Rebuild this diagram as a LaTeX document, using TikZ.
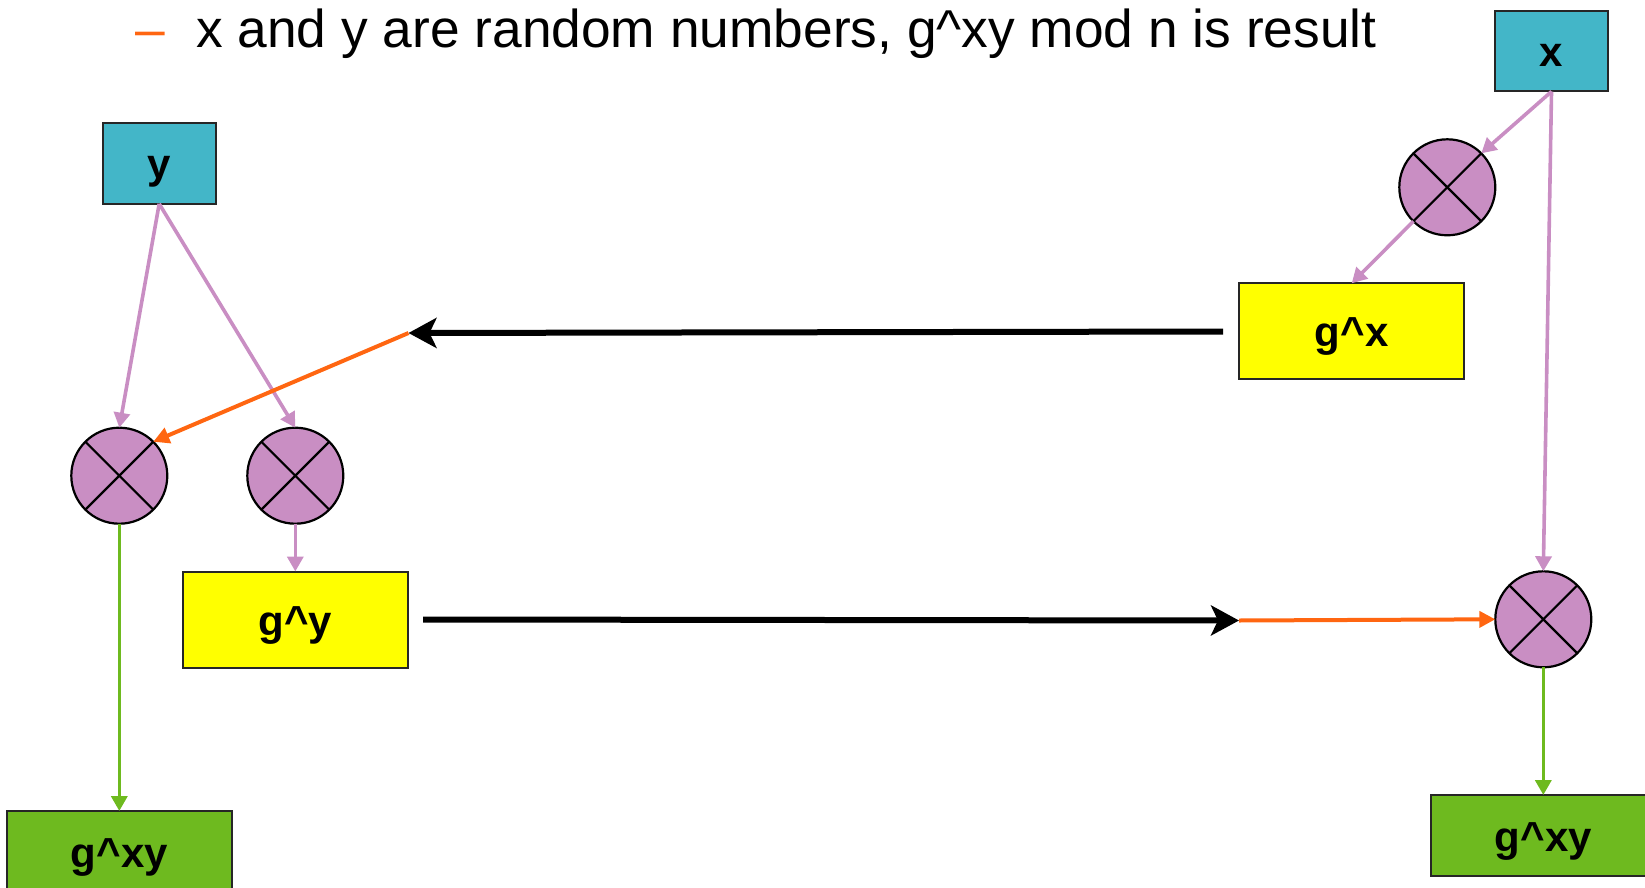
\documentclass[tikz,border=0pt]{standalone}
\usepackage{fontspec}
\setmainfont{Liberation Sans}
\usetikzlibrary{arrows.meta,calc}
\definecolor{tealbox}{HTML}{43B6C8}
\definecolor{pinkc}{HTML}{C98EC3}
\definecolor{greenc}{HTML}{6EBA1F}
\definecolor{orangec}{HTML}{FF6611}
\definecolor{yellowc}{HTML}{FFFF00}
\tikzset{
  box/.style={draw=black!85,line width=2pt,inner sep=0pt,outer sep=0pt,
    font=\fontsize{42}{42}\selectfont\bfseries,text height=31pt,text depth=0pt},
  inbox/.style={box,fill=tealbox,minimum width=113pt,minimum height=80pt},
  pubbox/.style={box,fill=yellowc,minimum width=225pt,minimum height=96pt},
  keybox/.style={box,fill=greenc,minimum width=225pt,minimum height=81pt},
  mult/.style={circle,draw=black,line width=2.2pt,fill=pinkc,minimum size=96pt,
    inner sep=0pt,outer sep=0pt,
    path picture={\draw[black,line width=2.2pt]
      (path picture bounding box.south west) -- (path picture bounding box.north east)
      (path picture bounding box.north west) -- (path picture bounding box.south east);}},
  pinkarrow/.style={draw=pinkc,line width=3.6pt,-{Triangle[length=15pt,width=16pt]}},
  greenarrow/.style={draw=greenc,line width=3.6pt,-{Triangle[length=15pt,width=16pt]}},
  orangearrow/.style={draw=orangec,line width=4pt,-{Triangle[length=16pt,width=16pt]}},
  sendarrow/.style={draw=black,line width=6pt,-{Stealth[length=28pt,width=30pt,inset=7pt]}}
}
\begin{document}
\begin{tikzpicture}[x=1pt,y=-1pt]
\clip (0,0) rectangle (1645,888);
\useasboundingbox (0,0) rectangle (1645,888);
% title
\node[anchor=base west,inner sep=0pt,text=orangec,font=\fontsize{53.3}{53.3}\selectfont] (dash) at (135,47.7) {–};
\node[anchor=base west,inner sep=0pt,font=\fontsize{53.3}{53.3}\selectfont] (title) at (196,47.7) {x and y are random numbers, g\^{}xy mod n is result};
% nodes
\node[inbox] (x) at (1551.5,51.5) {x};
\node[inbox,minimum height=81pt] (y) at (159.2,163.3) {y};
\node[mult] (cx) at (1447.3,187.3) {};
\node[pubbox] (gx) at (1351.7,331.3) {g\^{}x};
\node[mult] (c1) at (119.3,475.7) {};
\node[mult] (c2) at (295.3,475.7) {};
\node[pubbox] (gy) at (295.3,619.5) {g\^{}y};
\node[mult] (cr) at (1543.3,619.3) {};
\node[keybox] (kl) at (119.3,851.5) {g\^{}xy};
\node[keybox] (kr) at (1543.3,835.5) {g\^{}xy};
\coordinate (s1) at (1223,331.5);
\coordinate (recvL) at (408.5,333);
\coordinate (s2) at (423,619.5);
\coordinate (recvR) at (1239,620.5);
% connectors
\draw[pinkarrow] (x.south) -- (cx.north east);
\draw[pinkarrow] (cx.south west) -- (gx.north);
\draw[pinkarrow] (x.south) -- (cr.north);
\draw[pinkarrow] (y.south) -- (c1.north);
\draw[pinkarrow] (y.south) -- (c2.north);
\draw[pinkarrow] (c2.south) -- (gy.north);
\draw[sendarrow] (s1) -- (recvL);
\draw[orangearrow] (recvL) -- (c1.north east);
\draw[sendarrow] (s2) -- (recvR);
\draw[orangearrow] (recvR) -- (cr.west);
\draw[greenarrow] (c1.south) -- (kl.north);
\draw[greenarrow] (cr.south) -- (kr.north);
\end{tikzpicture}
\end{document}
